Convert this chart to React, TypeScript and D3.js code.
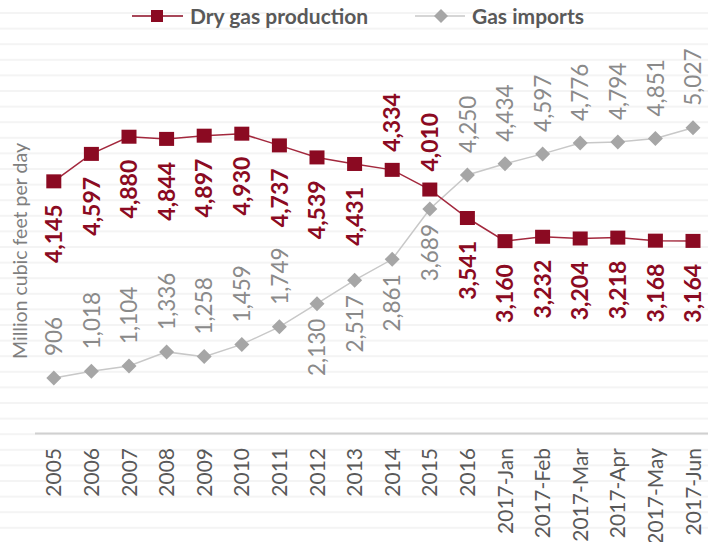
import React from 'react';
import * as d3 from 'd3';

const categories = [
  '2005', '2006', '2007', '2008', '2009', '2010', '2011', '2012', '2013',
  '2014', '2015', '2016', '2017-Jan', '2017-Feb', '2017-Mar', '2017-Apr',
  '2017-May', '2017-Jun',
];
const production = [4145, 4597, 4880, 4844, 4897, 4930, 4737, 4539, 4431, 4334, 4010, 3541, 3160, 3232, 3204, 3218, 3168, 3164];
const imports = [906, 1018, 1104, 1336, 1258, 1459, 1749, 2130, 2517, 2861, 3689, 4250, 4434, 4597, 4776, 4794, 4851, 5027];
// label side for each point: 'a' above, 'b' below
const productionSide = ['b', 'b', 'b', 'b', 'b', 'b', 'b', 'b', 'b', 'a', 'a', 'b', 'b', 'b', 'b', 'b', 'b', 'b'];
const importsSide = ['a', 'a', 'a', 'a', 'a', 'a', 'a', 'b', 'b', 'b', 'b', 'a', 'a', 'a', 'a', 'a', 'a', 'a'];

const RED = '#8b0a22';
const GRAY = '#a6a6a6';
const FONT = 'Lato, "Open Sans", sans-serif';

// square diamond, r = half diagonal
const diamond = (r: number) => `M0,${-r}L${r},0L0,${r}L${-r},0Z`;

export default function App() {
  const W = 708;
  const H = 542;
  const x = d3.scaleBand<string>().domain(categories).range([35, 35 + 18 * 37.6]);
  const y = d3.scaleLinear().domain([0, 7000]).range([433, 8]);
  const cx = (c: string) => (x(c) as number) + x.bandwidth() / 2;
  const fmt = d3.format(',');

  const line = d3.line<number>()
    .x((_, i) => cx(categories[i]))
    .y(d => y(d));

  const stripes = d3.range(12, H, 15.6);

  return (
    <svg width={W} height={H} style={{ position: 'absolute', left: 0, top: 0, background: '#fff' }}>
      {stripes.map((s, i) => (
        <rect key={i} x={0} y={s} width={W} height={2} fill="#f4f4f4" />
      ))}

      {/* legend */}
      <line x1={132} x2={183} y1={16} y2={16} stroke={RED} strokeWidth={1.5} />
      <rect x={151} y={10} width={12} height={12} fill={RED} />
      <text x={190} y={23.5} fontFamily={FONT} fontWeight="bold" fontSize={21} fill="#595959">Dry gas production</text>
      <line x1={415} x2={465} y1={16} y2={16} stroke="#c8c8c8" strokeWidth={1.5} />
      <path d={diamond(7)} transform="translate(441,16)" fill={GRAY} />
      <text x={472} y={23.5} fontFamily={FONT} fontWeight="bold" fontSize={21} fill="#595959">Gas imports</text>

      {/* axis title */}
      <text transform="translate(20,251) rotate(-90)" textAnchor="middle" dy="0.35em"
        fontFamily={FONT} fontSize={19.5} fill="#7f7f7f">Million cubic feet per day</text>

      {/* x axis */}
      <line x1={35} x2={W} y1={433.5} y2={433.5} stroke="#d0d0d0" strokeWidth={2} />
      {categories.map(c => (
        <text key={c} transform={`translate(${cx(c)},448) rotate(-90)`} textAnchor="end" dy="0.36em"
          fontFamily={FONT} fontSize={21} fill="#595959">{c}</text>
      ))}

      {/* imports */}
      <path d={line(imports) as string} fill="none" stroke="#c8c8c8" strokeWidth={1.5} />
      {imports.map((v, i) => (
        <path key={i} d={diamond(7.5)}
          transform={`translate(${cx(categories[i])},${y(v)})`} fill={GRAY} />
      ))}
      {imports.map((v, i) => {
        const above = importsSide[i] === 'a';
        return (
          <text key={i} transform={`translate(${cx(categories[i])},${above ? y(v) - 22 : y(v) + 15}) rotate(-90)`}
            textAnchor={above ? 'start' : 'end'} dy="0.36em" fontFamily={FONT} fontSize={22.5} fill="#8a8a8a">
            {fmt(v)}
          </text>
        );
      })}

      {/* production */}
      <path d={line(production) as string} fill="none" stroke="#a3283d" strokeWidth={1.5} />
      {production.map((v, i) => (
        <rect key={i} x={cx(categories[i]) - 7.5} y={y(v) - 7} width={15} height={14} fill={RED} />
      ))}
      {production.map((v, i) => {
        const above = productionSide[i] === 'a';
        return (
          <text key={i} transform={`translate(${cx(categories[i])},${above ? y(v) - 18 : y(v) + 23}) rotate(-90)`}
            textAnchor={above ? 'start' : 'end'} dy="0.36em" fontFamily={FONT} fontWeight="bold" fontSize={23} fill={RED}>
            {fmt(v)}
          </text>
        );
      })}
    </svg>
  );
}
